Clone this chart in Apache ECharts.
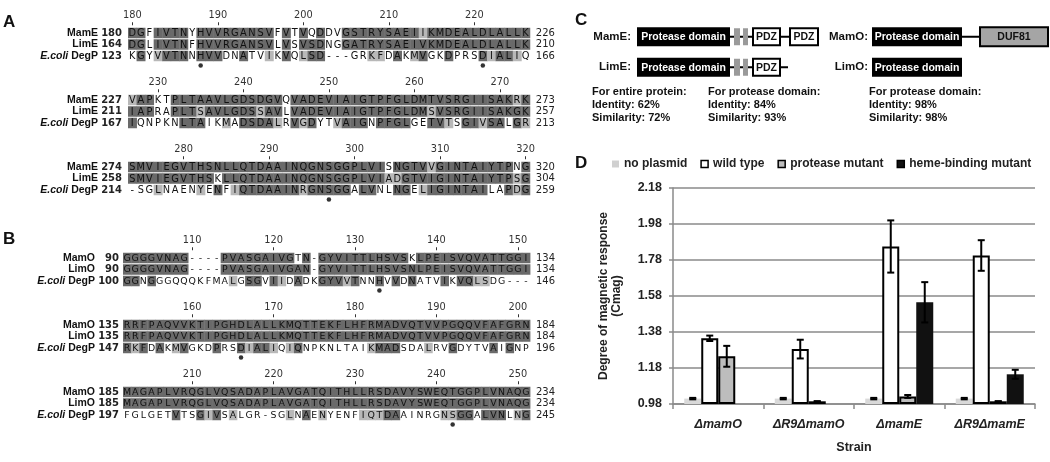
<!DOCTYPE html>
<html>
<head>
<meta charset="utf-8">
<script src="https://cdn.jsdelivr.net/npm/echarts@6/dist/echarts.min.js"></script>
<style>
  html, body { margin: 0; padding: 0; background: #fff; }
  #chart { width: 1050px; height: 462px; }
</style>
</head>
<body>
<div id="chart"></div>
<script>
// ---- panel A / B : alignments (groups of 10 columns, spaces are stripped) ----
// shade: D = identical (dark), L = similar (light), . = none
const namesA = ['MamE', 'LimE', 'E.coli DegP'];
const namesB = ['MamO', 'LimO', 'E.coli DegP'];

const seqA1 = [
  'DGFIVTNYHV VRGANSVFVT VQDDVGSTRY SAEIIKMDEA LDLALLK',
  'DGLIVTNFHV VRGANSVLVS VSDNGGATRY SAEIVKMDEA LDLALLK',
  'KGYVVTNNHV VDNATVIKVQ LSD---GRKF DAKMVGKDPR SDIALIQ'
];
const shadeA1 = [
  'DD.DDDD.DD DDDDDDD.D. D.D..DDDDD DDDDLDDDDD DDDDDDD',
  'DD.DDDD.DD DDDDDDD.D. DDD..DDDDD DDDDDDDDDD DDDDDDD',
  '.D.LDDD.DD D..D..L.D. LDD.....LL .D.LD..D.. .DLDDL.'
];
const startA1 = [180, 164, 123];
const endA1 = [226, 210, 166];
const dotsA1 = [8, 41];

const seqA2 = [
  'VAPKTPLTAA VLGDSDGVQV ADEVIAIGTP FGLDMTVSRG IISAKRK',
  'IAPRAPLTSA VLGDSSAVLV ADEVIAIGTP FGLDMSVSRG IISAKGK',
  'IQNPKNLTAI KMADSDALRV GDYTVAIGNP FGLGETVTSG IVSALGR'
];
const shadeA2 = [
  'LDD..DDDDD DDDDDDDD.D DDDDDDDDDD DDDDDDDDDD DDDDDLD',
  'DDD..DDDLD DDDDDLDD.D DDDDDDDDDD DDDDDLDDDD DDDDDDD',
  'D.....DDD. .L.DDDDL.D LD..LDDD.D DDD..DDL.D DLDD.DL'
];
const startA2 = [227, 211, 167];
const endA2 = [273, 257, 213];
const dotsA2 = [];

const seqA3 = [
  'SMVIEGVTHS NLLQTDAAIN QGNSGGPLVI SNGTVVGINT AIYTPNG',
  'SMVIEGVTHS KLLQTDAAIN QGNSGGPLVI ADGTVIGINT AIYTPSG',
  '-SGLNAENYE NFIQTDAAIN RGNSGGALVN LNGELIGINT AILAPDG'
];
const shadeA3 = [
  'DDDDDDDDDD DDDDDDDDDD DDDDDDDDDD .DDDDLDDDD DDDDD.D',
  'DDDDDDDDDD .DDDDDDDDD DDDDDDDDDD LLDDDDDDDD DDDDDLD',
  '...L....L. D.LDDDDDDD LDDDDD.DD. .DD.LDDDDD DD..DLD'
];
const startA3 = [274, 258, 214];
const endA3 = [320, 304, 259];
const dotsA3 = [23];

const seqB1 = [
  'GGGGVNAG-- --PVASGAIV GTN-GYVITT LHSVSKLPEI SVQVATTGGI',
  'GGGGVNAG-- --PVASGAIV GAN-GYVITT LHSVSNLPEI SVQVATTGGI',
  'GGNGGGQQQK FMALGSGVII DADKGYVVTN NHVVDNATVI KVQLSDG---'
];
const shadeB1 = [
  'DDDDDDDD.. ..DDDDDDDD D.D.DDDDDD DDDDD.DDDD DDDDDDDDDD',
  'DDDDDDDD.. ..DDDDDDDD DDD.DDDDDD DDDDDDDDDD DDDDDDDDDD',
  'DD.D...... ...L.DD.DL .D..DDDLD. .D.D.D...D .DDLL.....'
];
const startB1 = [90, 90, 100];
const endB1 = [134, 134, 146];
const dotsB1 = [31];

const seqB2 = [
  'RRFPAQVVKT IPGHDLALLK MQTTEKFLHF RMADVQTVVP GQQVFAFGRN',
  'RRFPAQVVKT IPGHDLALLK MQTTEKFLHF RMADVQTVVP GQQVFAFGRN',
  'RKFDAKMVGK DPRSDIALIQ IQNPKNLTAI KMADSDALRV GDYTVAIGNP'
];
const shadeB2 = [
  'DDDDDDDDDD DDDDDDDDDD DDDDDDDDDD DDDDDDDDDD DDDDDDDDDD',
  'DDDDDDDDDD DDDDDDDDDD DDDDDDDDDD DDDDDDDDDD DDDDDDDDDD',
  'DLD.D.LD.. .D..DLDDL. LD........ LDDD...L.. D....D.D..'
];
const startB2 = [135, 135, 147];
const endB2 = [184, 184, 196];
const dotsB2 = [14];

const seqB3 = [
  'MAGAPLVRQG LVQSADAPLA VGATQITHLL RSDAVYSWEQ TGGPLVNAQG',
  'MAGAPLVRQG LVQSADAPLA VGATQITHLL RSDAVYSWEQ TGGPLVNAQG',
  'FGLGETVTSG IVSALGR-SG LNAENYENFI QTDAAINRGN SGGALVNLNG'
];
const shadeB3 = [
  'DDDDDDDDDD DDDDDDDDDD DDDDDDDDDD DDDDDDDDDD DDDDDDDDDD',
  'DDDDDDDDDD DDDDDDDDDD DDDDDDDDDD DDDDDDDDDD DDDDDDDDDD',
  '......D..D LD.L...... L.D.L....L LLDD.....L LDD.DDD.LD'
];
const startB3 = [185, 185, 197];
const endB3 = [234, 234, 245];
const dotsB3 = [40];

// ruler number of the first column of each block
const rulerFirst = [180, 227, 274, 102, 152, 202];

// ---- panel C : domain diagrams (diagram units) ----
const rowsCLeft = ['MamE:', 'LimE:'];
const rowsCRight = ['MamO:', 'LimO:'];
const domainsMamE = [['line', 93, 181], ['protease', 0, 93], ['linker', 97, 103], ['linker', 106, 111], ['pdz', 116, 143], ['pdz', 153, 181]];
const domainsLimE = [['line', 93, 151], ['protease', 0, 93], ['linker', 97, 103], ['linker', 106, 111], ['pdz', 116, 143]];
const domainsMamO = [['line', 90, 108], ['protease', 0, 90], ['duf', 108, 176]];
const domainsLimO = [['protease', 0, 90]];
const domainText = { protease: 'Protease domain', pdz: 'PDZ', duf: 'DUF81' };
const identityTexts = [
  'For entire protein:\nIdentity: 62%\nSimilarity: 72%',
  'For protease domain:\nIdentity: 84%\nSimilarity: 93%',
  'For protease domain:\nIdentity: 98%\nSimilarity: 98%'
];

// ---- panel D : magnetic response ----
const strains = ['\u0394mamO', '\u0394R9\u0394mamO', '\u0394mamE', '\u0394R9\u0394mamE'];
const seriesNames = ['no plasmid', 'wild type', 'protease mutant', 'heme-binding mutant'];
const noPlasmid = [1.01, 1.01, 1.01, 1.01];
const noPlasmidErr = [0.004, 0.004, 0.004, 0.004];
const wildType = [1.345, 1.285, 1.855, 1.805];
const wildTypeErr = [0.015, 0.052, 0.145, 0.085];
const proteaseMutant = [1.245, 0.995, 1.022, 0.995];
const proteaseMutantErr = [0.058, 0, 0.008, 0];
const hemeMutant = [null, null, 1.545, 1.145];
const hemeMutantErr = [null, null, 0.112, 0.025];
const yBase = 0.98;
const yTickLabels = ['0.98', '1.18', '1.38', '1.58', '1.78', '1.98', '2.18'];

// ------------------------------------------------------------------
const ROW_H = 11.5;
const DARK = '#6a6a6a';
const LIGHT = '#b8b8b8';
const SANS = 'Liberation Sans';
const MONO = 'DejaVu Sans';

const blocks = [
  { seq: seqA1, shade: shadeA1, start: startA1, end: endA1, dots: dotsA1, names: namesA, top: 27.25 },
  { seq: seqA2, shade: shadeA2, start: startA2, end: endA2, dots: dotsA2, names: namesA, top: 94.25 },
  { seq: seqA3, shade: shadeA3, start: startA3, end: endA3, dots: dotsA3, names: namesA, top: 161.25 },
  { seq: seqB1, shade: shadeB1, start: startB1, end: endB1, dots: dotsB1, names: namesB, top: 252.25 },
  { seq: seqB2, shade: shadeB2, start: startB2, end: endB2, dots: dotsB2, names: namesB, top: 319.25 },
  { seq: seqB3, shade: shadeB3, start: startB3, end: endB3, dots: dotsB3, names: namesB, top: 386.25 }
];

const grid = [], xAxis = [], yAxis = [], series = [];

const nameLabel = (name, num) => {
  if (name.indexOf('E.coli') === 0) return '{i|E.coli} {b|' + name.slice(7) + '}{n|' + num + '}';
  return '{b|' + name + '}{n|' + num + '}';
};

blocks.forEach((b, k) => {
  const isA = k < 3;
  const seqs = b.seq.map(s => s.replace(/ /g, ''));
  const shades = b.shade.map(s => s.replace(/ /g, ''));
  const n = seqs[0].length;
  const cw = isA ? 8.55 : 8.14;
  const fs = isA ? 9.8 : 9.4;
  grid.push({ left: isA ? 128 : 123, top: b.top, width: cw * n, height: ROW_H * 4, containLabel: false });
  const every10 = (i, v) => Number(v) % 10 === 0;
  xAxis.push({
    gridIndex: k, type: 'category', position: 'top', offset: 2,
    data: seqs[0].split('').map((_, i) => String(rulerFirst[k] + i)),
    axisLine: { show: false },
    axisTick: { show: true, alignWithLabel: true, length: 3, interval: every10, lineStyle: { color: '#333', width: 1 } },
    axisLabel: { interval: every10, margin: 5, fontSize: 9.8, fontFamily: MONO, color: '#333' },
    splitLine: { show: false }
  });
  const yIdx = yAxis.length;
  const rows = ['0', '1', '2', '3'];
  yAxis.push({
    gridIndex: k, type: 'category', inverse: true, data: rows, position: 'left',
    axisLine: { show: false }, axisTick: { show: false }, splitLine: { show: false },
    axisLabel: {
      interval: 0, margin: isA ? 6 : 4, fontSize: 10.5, fontFamily: SANS, fontWeight: 'bold', color: '#111',
      formatter: (v, i) => i < 3 ? nameLabel(b.names[i], b.start[i]) : '',
      rich: {
        b: { fontFamily: SANS, fontWeight: 'bold', fontSize: 10.5, color: '#111' },
        i: { fontFamily: SANS, fontWeight: 'bold', fontStyle: 'italic', fontSize: 10.5, color: '#111' },
        n: { fontFamily: MONO, fontSize: 10, color: '#222', width: 24, align: 'right' }
      }
    }
  });
  yAxis.push({
    gridIndex: k, type: 'category', inverse: true, data: rows, position: 'right',
    axisLine: { show: false }, axisTick: { show: false }, splitLine: { show: false },
    axisLabel: { interval: 0, margin: 6, fontSize: 10, fontFamily: MONO, color: '#222',
      formatter: (v, i) => i < 3 ? String(b.end[i]) : '' }
  });

  const cells = [];
  seqs.forEach((s, r) => {
    for (let c = 0; c < n; c++) cells.push({ col: c, row: r, ch: s[c], shade: shades[r][c] });
  });
  series.push({
    type: 'custom', xAxisIndex: k, yAxisIndex: yIdx, silent: true,
    data: cells.map(c => [c.col, c.row]),
    renderItem: (params, api) => {
      const c = cells[params.dataIndex];
      const p = api.coord([c.col, c.row]);
      const w = api.size([1, 0])[0];
      const h = ROW_H - 1;
      const children = [];
      if (c.shade !== '.') {
        children.push({ type: 'rect', shape: { x: p[0] - w / 2, y: p[1] - h / 2, width: w + 0.4, height: h },
          style: { fill: c.shade === 'D' ? DARK : LIGHT } });
      }
      children.push({ type: 'text', style: { text: c.ch, x: p[0], y: p[1] + 0.5, align: 'center', verticalAlign: 'middle',
        font: fs + 'px "' + MONO + '"', fill: '#111' } });
      return { type: 'group', children };
    }
  });
  series.push({
    type: 'scatter', xAxisIndex: k, yAxisIndex: yIdx, silent: true,
    data: b.dots.map(c => [c, 3]), symbol: 'circle', symbolSize: 4.5, symbolOffset: [0, -2],
    itemStyle: { color: '#000' }
  });
});

// ---- panel C grids ----
const domainRender = (items) => (params, api) => {
  const d = items[params.dataIndex];
  const p0 = api.coord([d.from, d.row]);
  const p1 = api.coord([d.to, d.row]);
  const y = p0[1];
  if (d.type === 'line') {
    return { type: 'line', shape: { x1: p0[0], y1: y, x2: p1[0], y2: y }, style: { stroke: '#000', lineWidth: 2 } };
  }
  const h = { protease: 19, pdz: 17, linker: 17, duf: 19 }[d.type];
  const fill = { protease: '#000', pdz: '#fff', linker: '#9a9a9a', duf: '#a5a5a5' }[d.type];
  const stroke = { protease: null, pdz: '#000', linker: null, duf: '#000' }[d.type];
  const children = [{ type: 'rect', shape: { x: p0[0], y: y - h / 2, width: p1[0] - p0[0], height: h },
    style: { fill, stroke, lineWidth: 2 } }];
  if (domainText[d.type]) {
    children.push({ type: 'text', style: { text: domainText[d.type], x: (p0[0] + p1[0]) / 2, y: y + 0.5,
      align: 'center', verticalAlign: 'middle', font: 'bold 10.5px "' + SANS + '"',
      fill: d.type === 'protease' ? '#fff' : '#111' } });
  }
  return { type: 'group', children };
};

const addDomainGrid = (left, width, rowsLabels, rowDomains, margin) => {
  const gi = grid.length;
  grid.push({ left, top: 21.5, width, height: 61, containLabel: false });
  xAxis.push({ gridIndex: gi, type: 'value', min: 0, max: width, show: false });
  const yi = yAxis.length;
  yAxis.push({
    gridIndex: gi, type: 'category', inverse: true, data: rowsLabels,
    axisLine: { show: false }, axisTick: { show: false }, splitLine: { show: false },
    axisLabel: { margin, fontFamily: SANS, fontWeight: 'bold', fontSize: 11.5, color: '#111' }
  });
  const items = [];
  rowDomains.forEach((doms, r) => doms.forEach(d => items.push({ type: d[0], from: d[1], to: d[2], row: r })));
  series.push({
    type: 'custom', xAxisIndex: gi, yAxisIndex: yi, silent: true,
    data: items.map(d => [d.from, d.row]), renderItem: domainRender(items)
  });
};
addDomainGrid(637, 181, rowsCLeft, [domainsMamE, domainsLimE], 6);
addDomainGrid(872, 176, rowsCRight, [domainsMamO, domainsLimO], 4);

// ---- panel D grid ----
const dG = grid.length;
grid.push({ left: 673, top: 188, right: 15, bottom: 58, containLabel: false });
const dX = xAxis.length;
xAxis.push({
  gridIndex: dG, type: 'category', data: strains,
  axisLine: { lineStyle: { color: '#8a8a8a', width: 1.5 } },
  axisTick: { show: true, length: 5, lineStyle: { color: '#8a8a8a', width: 1.5 } },
  axisLabel: { interval: 0, hideOverlap: false, fontFamily: SANS, fontStyle: 'italic', fontWeight: 'bold',
    fontSize: 12.5, color: '#222', margin: 14 },
  name: 'Strain', nameLocation: 'middle', nameGap: 37,
  nameTextStyle: { fontFamily: SANS, fontWeight: 'bold', fontSize: 12.5, color: '#222' }
});
const dY = yAxis.length;
yAxis.push({
  gridIndex: dG, type: 'value', min: 0, max: 1.2, interval: 0.2,
  axisLine: { show: true, lineStyle: { color: '#8a8a8a', width: 1.5 } },
  axisTick: { show: true, length: 4, lineStyle: { color: '#8a8a8a', width: 1.5 } },
  splitLine: { lineStyle: { color: '#8a8a8a', width: 1.5 } },
  axisLabel: { fontFamily: SANS, fontWeight: 'bold', fontSize: 12.5, color: '#222', margin: 11,
    formatter: v => yTickLabels[Math.round(v / 0.2)] },
  name: 'Degree of magnetic response\n(Cmag)', nameLocation: 'middle', nameRotate: 90, nameGap: 50,
  nameTextStyle: { fontFamily: SANS, fontWeight: 'bold', fontSize: 12, color: '#222', lineHeight: 13 }
});

const BAR_W = 17;
const barStyles = [
  { color: '#d9d9d9' },
  { color: '#ffffff', borderColor: '#000', borderWidth: 2 },
  { color: '#bdbdbd', borderColor: '#000', borderWidth: 2 },
  { color: '#111111' }
];
const means = [noPlasmid, wildType, proteaseMutant, hemeMutant];
const errs = [noPlasmidErr, wildTypeErr, proteaseMutantErr, hemeMutantErr];
means.forEach((vals, s) => {
  series.push({
    type: 'bar', name: seriesNames[s], xAxisIndex: dX, yAxisIndex: dY,
    barWidth: BAR_W, barGap: '0%', silent: true,
    data: vals.map(v => v == null ? '-' : v - yBase),
    itemStyle: barStyles[s]
  });
});
const errData = [];
means.forEach((vals, s) => vals.forEach((v, c) => {
  if (v != null) errData.push([c, s, v - yBase, errs[s][c]]);
}));
series.push({
  type: 'custom', xAxisIndex: dX, yAxisIndex: dY, silent: true, z: 5,
  data: errData,
  renderItem: (params, api) => {
    const c = api.value(0), s = api.value(1), m = api.value(2), e = api.value(3);
    let off = (s - 1.5) * BAR_W;
    if (api.barLayout) {
      const lay = api.barLayout({ barWidth: BAR_W, barGap: '0%', count: 4 });
      if (lay && lay[s]) off = lay[s].offsetCenter;
    }
    const x = api.coord([c, m])[0] + off;
    const yTop = api.coord([c, m + e])[1];
    const yBot = api.coord([c, m - e])[1];
    const cap = 3.5;
    const st = { stroke: '#000', lineWidth: 2 };
    return { type: 'group', children: [
      { type: 'line', shape: { x1: x, y1: yTop, x2: x, y2: yBot }, style: st },
      { type: 'line', shape: { x1: x - cap, y1: yTop, x2: x + cap, y2: yTop }, style: st },
      { type: 'line', shape: { x1: x - cap, y1: yBot, x2: x + cap, y2: yBot }, style: st }
    ] };
  }
});

const letterStyle = { fontFamily: SANS, fontWeight: 'bold', fontSize: 17, color: '#111' };
const infoStyle = { fontFamily: SANS, fontWeight: 'bold', fontSize: 11, color: '#111', lineHeight: 13 };

const option = {
  animation: false,
  backgroundColor: '#fff',
  textStyle: { fontFamily: SANS },
  title: [
    { text: 'A', left: 3, top: 14, padding: 0, textStyle: letterStyle },
    { text: 'B', left: 3, top: 231, padding: 0, textStyle: letterStyle },
    { text: 'C', left: 575, top: 12, padding: 0, textStyle: letterStyle },
    { text: 'D', left: 575, top: 155, padding: 0, textStyle: letterStyle },
    { text: identityTexts[0], left: 592, top: 85, padding: 0, textStyle: infoStyle },
    { text: identityTexts[1], left: 708, top: 85, padding: 0, textStyle: infoStyle },
    { text: identityTexts[2], left: 869, top: 85, padding: 0, textStyle: infoStyle }
  ],
  legend: {
    left: 612, top: 158, padding: 0, icon: 'rect', itemWidth: 7, itemHeight: 7, itemGap: 13,
    selectedMode: false,
    textStyle: { fontFamily: SANS, fontWeight: 'bold', fontSize: 12, color: '#222' },
    data: seriesNames.map((nm, s) => ({
      name: nm,
      itemStyle: s === 0 ? { color: '#d0d0d0', borderWidth: 0 }
        : { color: barStyles[s].color, borderColor: '#000', borderWidth: 1.5 }
    }))
  },
  grid, xAxis, yAxis, series
};

const chart = echarts.init(document.getElementById('chart'), null, { renderer: 'canvas' });
chart.setOption(option);
</script>
</body>
</html>
